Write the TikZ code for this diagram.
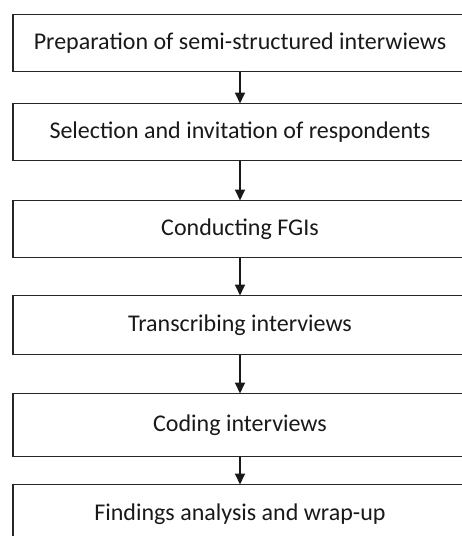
\documentclass[tikz,border=0pt]{standalone}
\usepackage{fontspec}
\setmainfont{Carlito}
\usetikzlibrary{positioning, arrows.meta}
\newcommand{\stageWidth}{454pt}
\newcommand{\stageHeight}{57pt}
\tikzstyle{stage}=[draw=black!85, line width=1.8pt, outer sep=0pt, minimum width=\stageWidth, minimum height=\stageHeight, inner sep=0pt, text=black!90, font=\fontsize{24}{28}\selectfont]
\tikzstyle{arrow}=[-{Triangle[width=10pt,length=11pt]}, line width=1.8pt, draw=black!90]

\begin{document}
\begin{tikzpicture}[node distance = 36pt]
    \clip (0,0) rectangle (462pt,-536pt);
    \node[stage] (prep) at (240pt,-43pt) {Preparation of semi-structured interwiews};
    \node[stage, below=32pt of prep] (select) {Selection and invitation of respondents};
    \node[stage, below=40pt of select] (fgi) {Conducting FGIs};
    \node[stage, below=38pt of fgi, minimum height=59pt] (transcr) {Transcribing interviews};
    \node[stage, below=39pt of transcr, minimum height=63pt] (coding) {Coding interviews};
    \node[stage, below=28pt of coding, minimum height=60pt] (findings) {Findings analysis and wrap-up};
    % connectors
    \draw[arrow] (prep) -- (select);
    \draw[arrow] (select) -- (fgi);
    \draw[arrow] (fgi) -- (transcr);
    \draw[arrow] (transcr) -- (coding);
    \draw[arrow] (coding) -- (findings);
  \end{tikzpicture}
\end{document}
